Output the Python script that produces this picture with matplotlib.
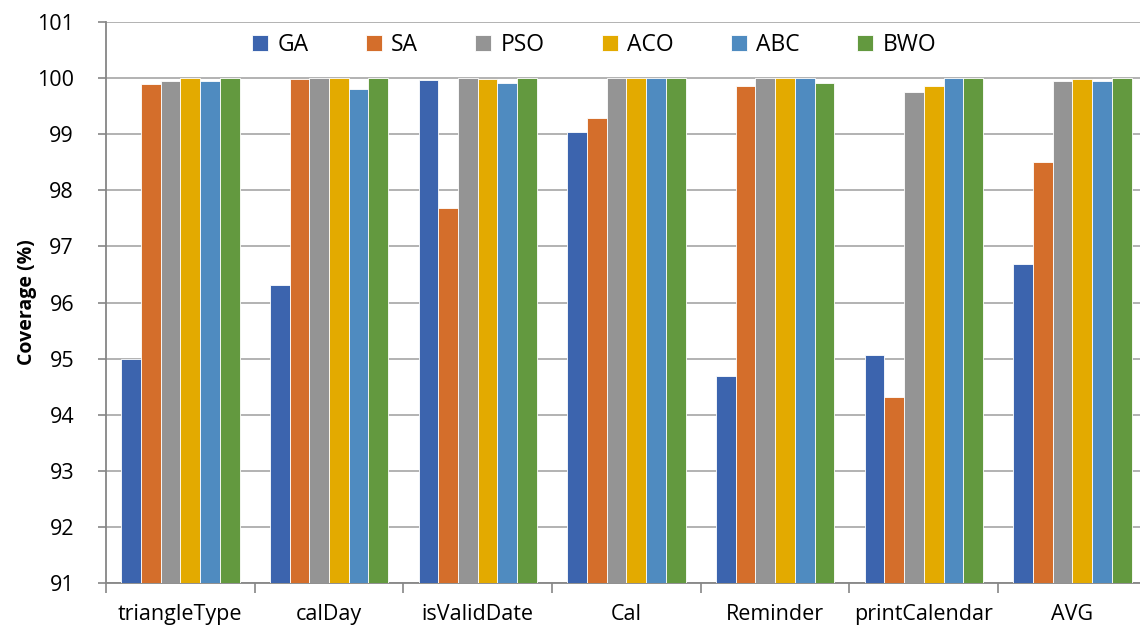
import numpy as np
import matplotlib.pyplot as plt

plt.rcParams['font.family'] = ['Open Sans', 'DejaVu Sans']

categories = ['triangleType', 'calDay', 'isValidDate', 'Cal', 'Reminder',
              'printCalendar', 'AVG']
ga = [95.00, 96.31, 99.96, 99.03, 94.69, 95.07, 96.69]
sa = [99.89, 99.98, 97.69, 99.28, 99.86, 94.31, 98.51]
pso = [99.95, 100.0, 100.0, 100.0, 100.0, 99.74, 99.95]
aco = [100.0, 100.0, 99.98, 100.0, 100.0, 99.86, 99.98]
abc = [99.94, 99.81, 99.91, 100.0, 100.0, 100.0, 99.95]
bwo = [100.0, 100.0, 100.0, 100.0, 99.91, 100.0, 100.0]

series = [('GA', ga, '#3C64AE'), ('SA', sa, '#D46E2B'), ('PSO', pso, '#949494'),
          ('ACO', aco, '#E3AA00'), ('ABC', abc, '#4F8BC0'), ('BWO', bwo, '#63993F')]

fig = plt.figure(figsize=(11.4, 6.28), dpi=100)
ax = fig.add_axes([0.093, 0.0712, 0.913, 0.8942])

x = np.arange(len(categories))
w = 0.1326
for i, (name, vals, col) in enumerate(series):
    offs = (i - 2.5) * w
    ax.bar(x + offs, np.array(vals) - 91, w, bottom=91, color=col,
           edgecolor='white', linewidth=0.6, label=name, zorder=3)

ax.set_ylim(91, 101)
ax.set_xlim(-0.5, len(categories) - 0.5)
ax.set_yticks(np.arange(91, 102, 1))
ax.yaxis.grid(True, color='#A6A6A6', linewidth=1.2, zorder=0)
ax.set_axisbelow(True)

ax.set_xticks(x)
ax.set_xticklabels(categories, fontsize=15.5)
ax.set_xticks(np.arange(-0.5, len(categories), 1), minor=True)
ax.tick_params(axis='x', which='major', length=0, pad=15)
ax.tick_params(axis='x', which='minor', length=7, color='#868686', width=1.2)
ax.tick_params(axis='y', labelsize=15.5, length=6, color='#868686', width=1.2, pad=17)

for s in ['top', 'right']:
    ax.spines[s].set_visible(False)
for s in ['left', 'bottom']:
    ax.spines[s].set_color('#868686')
    ax.spines[s].set_linewidth(1.3)

ax.set_ylabel('Coverage (%)', fontsize=14, fontweight='bold', labelpad=0)

ax.legend(loc='center', bbox_to_anchor=(0.469, 0.9585), ncol=6, frameon=False,
          fontsize=16.5, handlelength=0.7, handleheight=0.7, handletextpad=0.4,
          columnspacing=2.5)

fig.savefig('out.png', dpi=100)
